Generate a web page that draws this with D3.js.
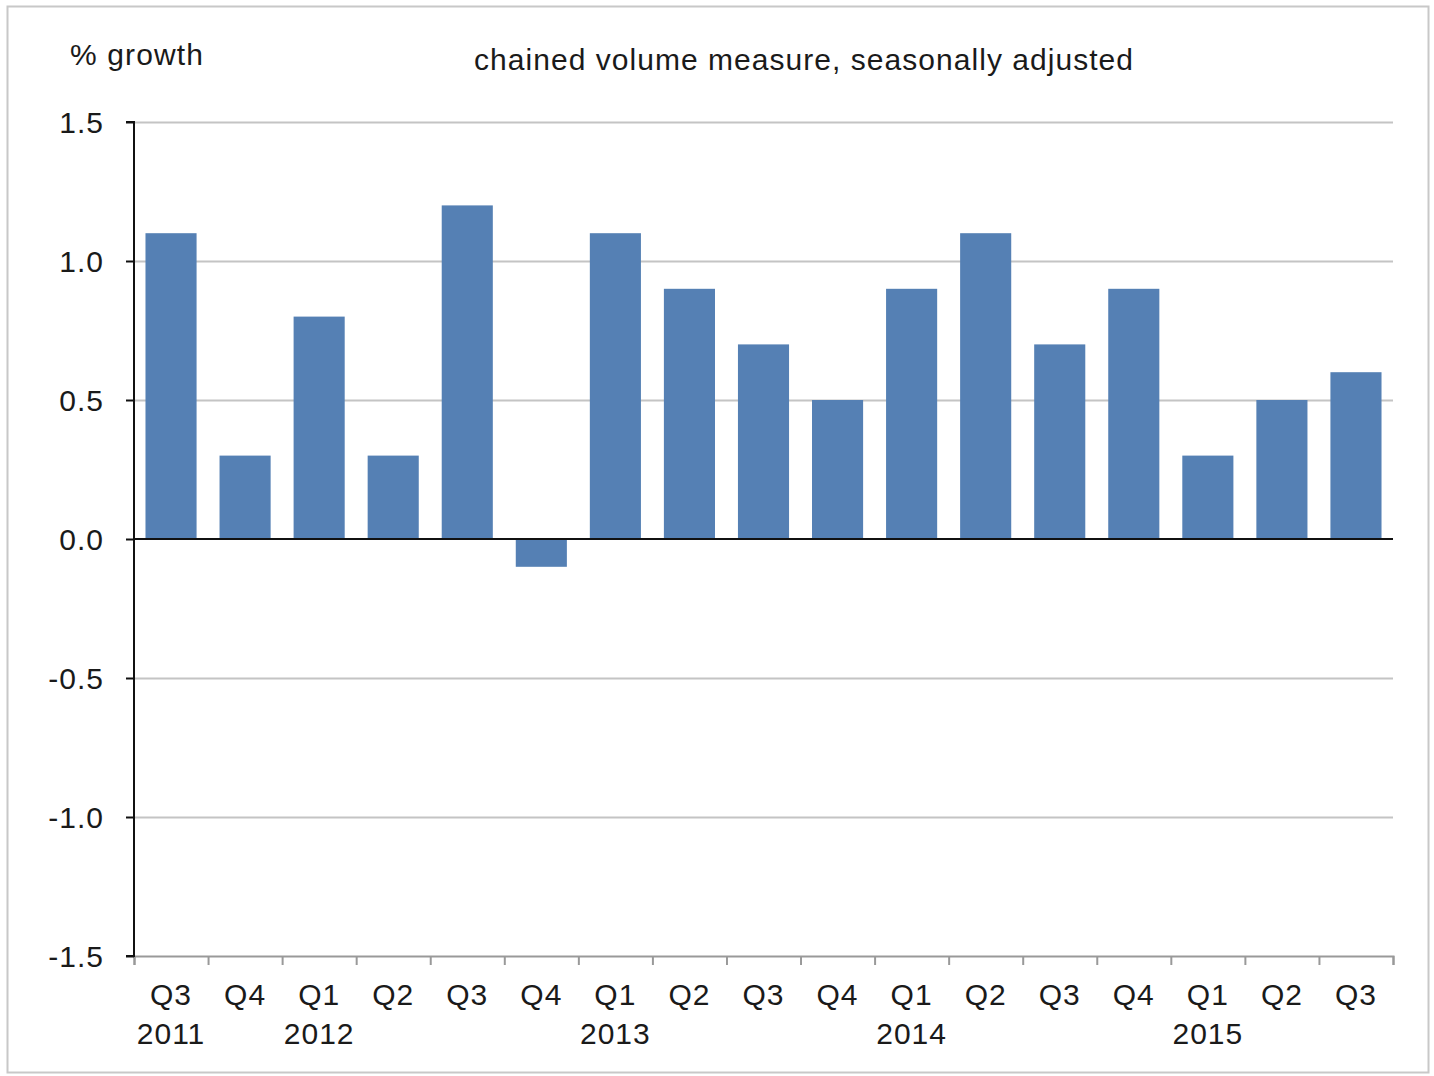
<!DOCTYPE html>
<html>
<head>
<meta charset="utf-8">
<script src="https://cdn.jsdelivr.net/npm/d3@7"></script>
<style>
  body { margin: 0; background: #fff; }
  svg text { font-family: "Liberation Sans", Arial, sans-serif; fill: #1a1a1a; letter-spacing: 1px; }
</style>
</head>
<body>
<svg id="chart" width="1434" height="1076"></svg>
<script>
const quarters = ["Q3","Q4","Q1","Q2","Q3","Q4","Q1","Q2","Q3","Q4","Q1","Q2","Q3","Q4","Q1","Q2","Q3"]
const years = ["2011","","2012","","","","2013","","","","2014","","","","2015","",""]
const growth = [1.1, 0.3, 0.8, 0.3, 1.2, -0.1, 1.1, 0.9, 0.7, 0.5, 0.9, 1.1, 0.7, 0.9, 0.3, 0.5, 0.6]
const yTicks = [-1.5, -1.0, -0.5, 0.0, 0.5, 1.0, 1.5]

let svg = d3.select('#chart')

let pad_left = 134
let pad_right = 1393
let pad_top = 122
let pad_bottom = 956

// outer frame
svg.append('rect').attr('x', 7.5).attr('y', 6.5).attr('width', 1421).attr('height', 1066)
   .attr('fill', 'none').attr('stroke', '#c8c8c8').attr('stroke-width', 2)

let idx = growth.map((d, i) => i)
let xScale = d3.scaleBand().domain(idx).range([pad_left, pad_right]).paddingInner(0.31).paddingOuter(0.155)
let xEdges = d3.scaleLinear().domain([0, growth.length]).range([pad_left, pad_right])
let yScale = d3.scaleLinear().domain([-1.5, 1.5]).range([pad_bottom, pad_top])

// gridlines
svg.append('g').selectAll('line').data(yTicks.filter(d => d !== 0 && d !== -1.5)).join('line')
   .attr('x1', pad_left).attr('x2', pad_right)
   .attr('y1', d => Math.round(yScale(d)) + 0.5).attr('y2', d => Math.round(yScale(d)) + 0.5)
   .attr('stroke', '#c4c4c4').attr('stroke-width', 2)

// bars
svg.append('g').selectAll('rect').data(growth).join('rect')
   .attr('x', (d, i) => xScale(i))
   .attr('width', xScale.bandwidth())
   .attr('y', d => yScale(Math.max(0, d)))
   .attr('height', d => Math.abs(yScale(d) - yScale(0)))
   .attr('fill', '#5580b4')

// zero line
svg.append('line').attr('x1', pad_left).attr('x2', pad_right)
   .attr('y1', yScale(0)).attr('y2', yScale(0))
   .attr('stroke', '#111').attr('stroke-width', 2)

// bottom axis with ticks at category edges
let xAxis = d3.axisBottom(xEdges).tickValues(d3.range(growth.length + 1)).tickSize(9).tickFormat('')
let gx = svg.append('g').attr('transform', 'translate(0,' + pad_bottom + ')').call(xAxis)
gx.select('.domain').attr('stroke', '#999').attr('stroke-width', 2)
gx.selectAll('.tick line').attr('stroke', '#999').attr('stroke-width', 2)

// left axis
let yAxis = d3.axisLeft(yScale).tickValues(yTicks).tickSize(8).tickPadding(22).tickFormat(d3.format('.1f'))
let gy = svg.append('g').attr('transform', 'translate(' + pad_left + ',0)').call(yAxis)
gy.select('.domain').attr('stroke', '#111').attr('stroke-width', 2).attr('d', `M-8,${pad_top}H0V${pad_bottom}H-8`)
gy.selectAll('.tick line').attr('stroke', '#111').attr('stroke-width', 2)
gy.selectAll('text').style('font-size', '30px').attr('fill', '#1a1a1a').attr('dy', '0.35em')
  .text(d => d < 0 ? '-' + d3.format('.1f')(-d) : d3.format('.1f')(d))

// category labels
svg.append('g').selectAll('text').data(quarters).join('text')
   .attr('x', (d, i) => xScale(i) + xScale.bandwidth() / 2).attr('y', 1005)
   .attr('text-anchor', 'middle').style('font-size', '30px').text(d => d)
svg.append('g').selectAll('text').data(years).join('text')
   .attr('x', (d, i) => xScale(i) + xScale.bandwidth() / 2).attr('y', 1044)
   .attr('text-anchor', 'middle').style('font-size', '30px').text(d => d)

// titles
svg.append('text').text('% growth').attr('x', 70).attr('y', 65).attr('textLength', 134).style('font-size', '30px')
svg.append('text').text('chained volume measure, seasonally adjusted').attr('x', 474).attr('y', 70)
   .attr('textLength', 660).style('font-size', '30px')
</script>
</body>
</html>
